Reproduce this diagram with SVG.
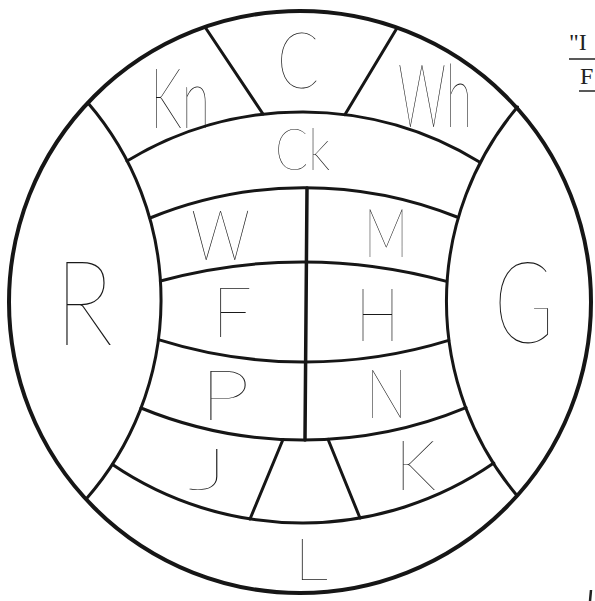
<svg xmlns="http://www.w3.org/2000/svg" width="595" height="601" viewBox="0 0 595 601">
<style>
.ln{fill:none;stroke:#161616;stroke-width:3;stroke-linecap:round}
.out{fill:none;stroke:#161616;stroke-width:4}
.lb{font-family:Lato,Roboto,"Liberation Sans",sans-serif;font-weight:100;fill:#1a1a1a}
.sf{font-family:"Liberation Serif",serif;font-size:24px;fill:#222}
</style>
<rect width="595" height="601" fill="#fff"/>
<g id="connectors">
<circle class="out" cx="300" cy="302" r="291"/>
<path class="ln" d="M87.8 102.8 A302 302 0 0 1 86 499.2"/>
<path class="ln" d="M517.5 107 A302 302 0 0 0 516.5 495"/>
<path class="ln" d="M127 161 A338 338 0 0 1 479.5 162"/>
<path class="ln" d="M150 218 A410 410 0 0 1 457 217"/>
<path class="ln" d="M160.4 281 A540 540 0 0 1 446.6 281.4"/>
<path class="ln" d="M158.4 339.6 A489 489 0 0 0 448.7 340.4"/>
<path class="ln" d="M141 408 A426 426 0 0 0 466 407.6"/>
<path class="ln" d="M112.5 464.5 A337 337 0 0 0 493.8 463.1"/>
<path class="ln" d="M205 27 L263 114"/>
<path class="ln" d="M397 28 L345 114.6"/>
<path class="ln" d="M307 188 L305 440" style="stroke-width:3.5"/>
<path class="ln" d="M283 439.5 L250 519"/>
<path class="ln" d="M328 439.3 L360 518"/>
</g>
<g id="Kn"><text class="lb" x="150" y="128" font-size="85" textLength="60" lengthAdjust="spacingAndGlyphs">Kn</text></g>
<g id="C"><text class="lb" x="277" y="88" font-size="78" textLength="42" lengthAdjust="spacingAndGlyphs">C</text></g>
<g id="Wh"><text class="lb" x="398" y="127" font-size="88" textLength="74" lengthAdjust="spacingAndGlyphs">Wh</text></g>
<g id="Ck"><text class="lb" x="275" y="170" font-size="58" textLength="55" lengthAdjust="spacingAndGlyphs">Ck</text></g>
<g id="W"><text class="lb" x="191" y="260" font-size="70" textLength="59" lengthAdjust="spacingAndGlyphs">W</text></g>
<g id="M"><text class="lb" x="364" y="257" font-size="68" textLength="44" lengthAdjust="spacingAndGlyphs">M</text></g>
<g id="F"><text class="lb" x="212" y="337" font-size="70" textLength="40" lengthAdjust="spacingAndGlyphs">F</text></g>
<g id="H"><text class="lb" x="356" y="341" font-size="74" textLength="43" lengthAdjust="spacingAndGlyphs">H</text></g>
<g id="P"><text class="lb" x="200" y="420" font-size="70" textLength="50" lengthAdjust="spacingAndGlyphs">P</text></g>
<g id="N"><text class="lb" x="366" y="418" font-size="68" textLength="41" lengthAdjust="spacingAndGlyphs">N</text></g>
<g id="R"><text class="lb" x="55" y="345" font-size="118" textLength="58" lengthAdjust="spacingAndGlyphs">R</text></g>
<g id="G"><text class="lb" x="494" y="343" font-size="115" textLength="60" lengthAdjust="spacingAndGlyphs">G</text></g>
<g id="J"><text class="lb" x="188" y="490" font-size="58" textLength="40" lengthAdjust="spacingAndGlyphs">J</text></g>
<g id="K"><text class="lb" x="395" y="490" font-size="70" textLength="41" lengthAdjust="spacingAndGlyphs">K</text></g>
<g id="L"><text class="lb" x="294" y="580" font-size="58" textLength="34" lengthAdjust="spacingAndGlyphs">L</text></g>
<g id="note">
<text class="sf" x="569" y="50">"I</text>
<line x1="569" y1="59" x2="595" y2="59" stroke="#222" stroke-width="1.5"/>
<text class="sf" x="580" y="84">F</text>
<line x1="579" y1="91" x2="595" y2="91" stroke="#222" stroke-width="1.5"/>
<line x1="591" y1="590" x2="590" y2="601" stroke="#222" stroke-width="2.5"/>
</g>
</svg>
